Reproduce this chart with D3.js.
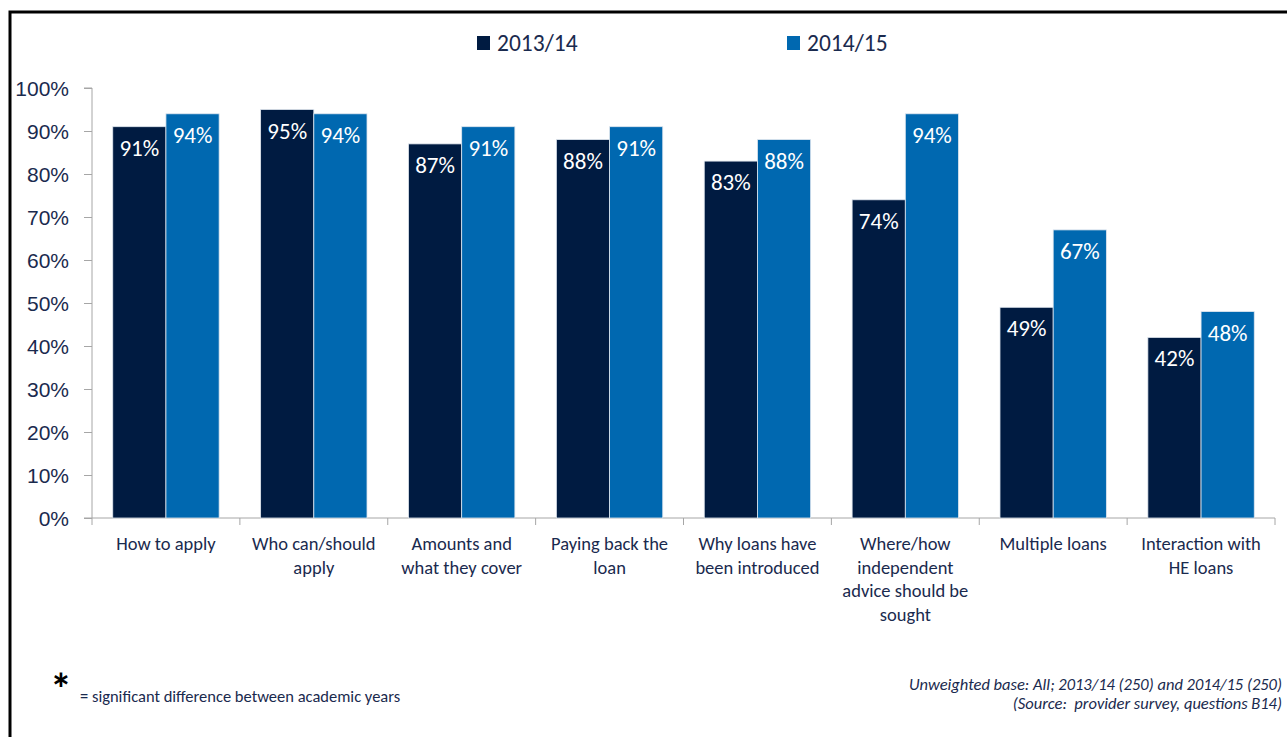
<!DOCTYPE html>
<html>
<head>
<meta charset="utf-8">
<script src="https://cdn.jsdelivr.net/npm/d3@7"></script>
<style>
  html, body { margin: 0; padding: 0; background: #fff; }
  svg { display: block; font-family: Carlito, Lato, "Open Sans", sans-serif; }
</style>
</head>
<body>
<svg id="chart" width="1287" height="737"></svg>
<script>
// Topics covered by provider advice, share of providers per academic year
const categories = [
  ["How to apply"],
  ["Who can/should", "apply"],
  ["Amounts and", "what they cover"],
  ["Paying back the", "loan"],
  ["Why loans have", "been introduced"],
  ["Where/how", "independent", "advice should be", "sought"],
  ["Multiple loans"],
  ["Interaction with", "HE loans"]
];
const seriesNames = ["2013/14", "2014/15"];
const values2013 = [91, 95, 87, 88, 83, 74, 49, 42];
const values2014 = [94, 94, 91, 91, 88, 94, 67, 48];
const yTicks = [0, 10, 20, 30, 40, 50, 60, 70, 80, 90, 100];
const colors = ["#001b41", "#0068b0"];
const textColor = "#1a2a4e";

const svg = d3.select("#chart");
const plotLeft = 92, plotRight = 1275, plotTop = 88, plotBottom = 518;

const x = d3.scaleBand().domain(d3.range(categories.length)).range([plotLeft, plotRight]).paddingInner(0).paddingOuter(0);
const inner = d3.scaleBand().domain([0, 1]).range([0, x.bandwidth()]).paddingOuter(0.39).paddingInner(0);
const y = d3.scaleLinear().domain([0, 100]).range([plotBottom, plotTop]);

// frame
svg.append("path").attr("d", `M10,737 V12 H1287`).attr("fill", "none").attr("stroke", "#000").attr("stroke-width", 3);

// y axis
const yAxis = svg.append("g").attr("transform", `translate(${plotLeft},0)`)
  .call(d3.axisLeft(y).tickValues(yTicks).tickFormat(d => d + "%").tickSize(8).tickPadding(15));
yAxis.select(".domain").attr("stroke", "#a6a6a6").attr("d", `M-8,${plotTop}H0V${plotBottom}H-8`);
yAxis.selectAll(".tick line").attr("stroke", "#a6a6a6");
yAxis.selectAll(".tick text").attr("fill", textColor).style("font-size", "21px").attr("dy", "0.34em");

// x axis (category boundaries)
const xg = svg.append("g");
xg.append("line").attr("x1", plotLeft).attr("x2", plotRight).attr("y1", plotBottom).attr("y2", plotBottom).attr("stroke", "#a6a6a6");
xg.selectAll("line.tk").data(d3.range(categories.length + 1)).join("line")
  .attr("class", "tk")
  .attr("x1", i => i < categories.length ? x(i) : plotRight).attr("x2", i => i < categories.length ? x(i) : plotRight)
  .attr("y1", plotBottom).attr("y2", plotBottom + 7).attr("stroke", "#a6a6a6");

// bars
const data = [values2013, values2014];
const groups = svg.append("g").selectAll("g").data(categories).join("g")
  .attr("transform", (d, i) => `translate(${x(i)},0)`);
groups.each(function(d, i) {
  const g = d3.select(this);
  [0, 1].forEach(s => {
    const v = data[s][i];
    g.append("rect")
      .attr("x", inner(s)).attr("width", inner.bandwidth())
      .attr("y", y(v)).attr("height", y(0) - y(v))
      .attr("fill", colors[s]).attr("stroke", "#dfe6ee").attr("stroke-width", 0.8);
    g.append("text")
      .attr("x", inner(s) + inner.bandwidth() / 2).attr("y", y(v) + 29)
      .attr("text-anchor", "middle").attr("fill", "#fff").style("font-size", "23px")
      .text(v + "%");
  });
  // category label
  const t = g.append("text").attr("text-anchor", "middle").attr("fill", textColor).style("font-size", "18.5px");
  d.forEach((line, k) => {
    t.append("tspan").attr("x", x.bandwidth() / 2).attr("y", 550 + k * 23.7).text(line);
  });
});

// legend
const legendX = [477, 787];
seriesNames.forEach((name, s) => {
  svg.append("rect").attr("x", legendX[s]).attr("y", 36).attr("width", 13).attr("height", 14).attr("fill", colors[s]);
  svg.append("text").attr("x", legendX[s] + 20).attr("y", 51).attr("fill", textColor).style("font-size", "23.5px").text(name);
});

// footnotes
svg.append("text").attr("x", 50).attr("y", 704).style("font-size", "44px").style("font-weight", "bold").attr("fill", "#000").text("*");
svg.append("text").attr("x", 80).attr("y", 702).style("font-size", "16.5px").attr("fill", textColor)
  .text("= significant difference between academic years");
svg.append("text").attr("x", 1282).attr("y", 690).attr("text-anchor", "end").style("font-size", "16.5px").style("font-style", "italic").attr("fill", textColor)
  .text("Unweighted base: All; 2013/14 (250) and 2014/15 (250)");
svg.append("text").attr("x", 1282).attr("y", 709).attr("text-anchor", "end").style("font-size", "16.5px").style("font-style", "italic").attr("fill", textColor)
  .attr("xml:space", "preserve").text("(Source:  provider survey, questions B14)");
</script>
</body>
</html>
